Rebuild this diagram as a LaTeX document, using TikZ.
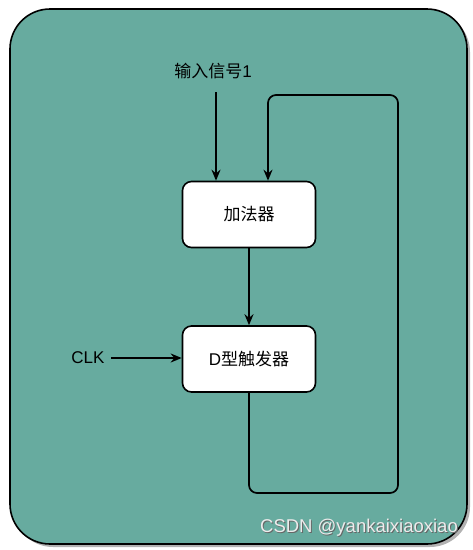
\documentclass[tikz,border=0pt]{standalone}
\usepackage{fontspec}
\setmainfont{Liberation Sans}
\newfontfamily\cjk{Noto Sans CJK SC}
\usetikzlibrary{arrows.meta}
\definecolor{teal}{HTML}{67AB9F}
\tikzset{
  block/.style={draw=black,line width=1.6pt,fill=white,rounded corners=9pt,minimum width=133pt,minimum height=66pt,inner sep=0pt,font=\fontsize{17}{20}\selectfont},
  conn/.style={draw=black,line width=1.7pt,-{Stealth[length=11pt,width=9pt]}},
  lbl/.style={font=\fontsize{17}{20}\selectfont,inner sep=0pt}
}
\begin{document}
\begin{tikzpicture}[x=1pt,y=-1pt]
\useasboundingbox (0,0) rectangle (473,550);
\fill[gray!60,rounded corners=40pt] (13,12) rectangle (470,547);
\draw[line width=1.6pt,fill=teal,rounded corners=40pt] (10,9) rectangle (467,544);
\node[block] (add) at (249,214.5) {{\cjk 加法器}};
\node[block] (dff) at (249,359) {D{\cjk 型触发器}};
\node[lbl] (in) at (213,71) {{\cjk 输入信号}1};
\node[lbl] (clk) at (88,358) {CLK};
\coordinate (inS) at (216,92);
\coordinate (clkS) at (111,358);
\draw[conn] (inS) -- (inS |- add.north);
\draw[conn] (clkS) -- (dff.west |- clkS);
\draw[conn] (add) -- (dff);
\coordinate (fb1) at (249,493);
\coordinate (fb2) at (398,493);
\coordinate (fb3) at (398,95);
\coordinate (fb4) at (268,95);
\draw[conn,rounded corners=8pt] (dff.south) -- (fb1) -- (fb2) -- (fb3) -- (fb4) -- (fb4 |- add.north);
\node[font=\fontsize{18.5}{20}\selectfont,text=black!60,inner sep=0pt] at (360,529) {CSDN @yankaixiaoxiao};
\node[font=\fontsize{18.5}{20}\selectfont,text=white!85!gray,inner sep=0pt] at (359,528) {CSDN @yankaixiaoxiao};
\end{tikzpicture}
\end{document}
